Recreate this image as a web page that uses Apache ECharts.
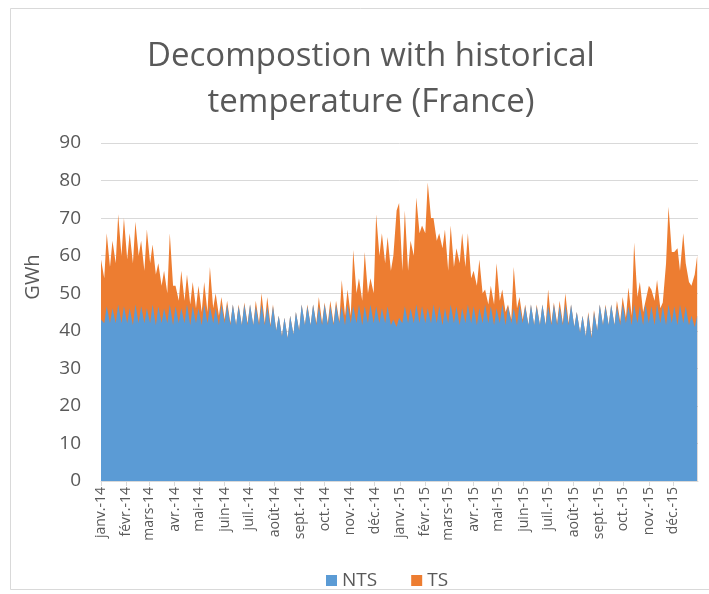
<!DOCTYPE html>
<html><head><meta charset="utf-8">
<script src="https://cdn.jsdelivr.net/npm/echarts@6/dist/echarts.min.js"></script>
<style>html,body{margin:0;padding:0;background:#fff}#c{width:709px;height:594px}</style>
</head><body><div id="c"></div>
<script>
// Month tick labels (x axis)
const monthLabels = ['janv.-14','févr.-14','mars-14','avr.-14','mai-14','juin-14','juil.-14','août-14','sept.-14','oct.-14','nov.-14','déc.-14',
  'janv.-15','févr.-15','mars-15','avr.-15','mai-15','juin-15','juil.-15','août-15','sept.-15','oct.-15','nov.-15','déc.-15'];
const yTicks = [0,10,20,30,40,50,60,70,80,90];
const seriesNames = ['NTS','TS'];

// Values read twice a week: Wednesday (working day) then Sunday, starting Wed 1 Jan 2014
const NTS = [
  43,42, 46.5,42, 46,42, 47,42, 46.5,42, 46,41.5, 47,42, 46.5,42, 46,42, 47,41.5,
  46.5,42, 46,42, 47,41.5, 46.5,42, 46,42, 47,41.5, 46.5,42, 46,41.5, 47,42, 46.5,42,
  46,41.5, 47,42, 47,41.5, 47,41.5, 46.5,41.5, 47,41.5, 47,41.5, 46.5,41.5, 47,41.5, 46.5,41,
  46.5,40, 44,38.5, 43.5,38, 44,39, 45,40, 47,41.5, 46.5,41.5, 47,41.5, 46.5,41.5, 47,41.5,
  46.5,41.5, 47,42, 46.5,41.5, 47,42, 46.5,42, 47,41.5, 46.5,42, 47,42, 46.5,42, 46,42,
  46.5,41.5, 43,41, 43.5,42, 46.5,42, 46,42, 47,42, 46.5,42, 46,42, 47,42, 46.5,41.5,
  46,42, 47,42, 46.5,41.5, 46,42, 47,42, 46.5,41.5, 46,42, 47,42, 46.5,41.5, 46,42,
  47,41.5, 46.5,42, 46,41.5, 47,42, 46.5,41.5, 47,41.5, 46.5,41.5, 47,41.5, 46.5,41.5, 47,41.5,
  46.5,41.5, 47,41.5, 47,41, 45,39.5, 44,38.5, 44.5,38, 45,40, 47,41.5, 46.5,41.5, 47,41.5,
  46.5,41.5, 47,42, 46.5,41.5, 47,42, 46.5,41.5, 47,42, 46.5,41.5, 47,42, 46.5,41.5, 47,42,
  46.5,41.5, 47,42, 46.5,41.5, 44,41, 44
];
const TS = [
  16,12, 19.5,15, 18,16, 24,18, 23.5,17, 20,16.5, 22,18, 17.5,14, 21,16, 16,13.5,
  11.5,10, 10,8, 19,10.5, 5.5,6, 10,6, 8,5.5, 6.5,4, 6,3.5, 6,3, 10.5,4,
  4,2.5, 2,1, 1,0.5, 0,0, 0.5,0, 0.5,0.5, 0,0, 1.5,0.5, 3,0.5, 2.5,0.5,
  0.5,0, 0,0, 0,0, 0,0, 0,0, 0,0, 0.5,0, 0,0.5, 2.5,0.5, 0.5,0.5,
  1.5,0.5, 1,0.5, 7,2.5, 4,2, 15,8, 7,6.5, 14.5,8, 7,8, 24.5,18, 20,16,
  18.5,14.5, 17,31, 30.5,14, 25.5,14, 18,18, 28.5,24, 21.5,24, 33.5,28, 23,22, 19.5,20.5,
  21,14, 21,15, 15.5,16.5, 20,15, 19,12, 9.5,10.5, 13,8, 4,5, 5.5,5.5, 12,6,
  4,3.5, 0.5,1, 11,4.5, 2,1, 0.5,0, 0,0, 0.5,0, 0,0, 4.5,0.5, 0.5,0.5,
  1.5,0.5, 3,0.5, 0,0, 0,0, 0,0, 0.5,0.5, 0.5,0, 0,0, 0.5,0, 0,0,
  1.5,1, 2,1.5, 5,2.5, 16.5,7, 6.5,3.5, 1,10, 4.5,6.5, 6.5,4, 1,16.5, 26,19,
  14.5,20.5, 9,24, 11.5,11.5, 8,14, 16
];

// x positions as day numbers counted from 1 Jan 2014
const DAY = 86400000;
const start = Date.UTC(2014, 0, 1);
const days = NTS.map((_, i) => Math.floor(i / 2) * 7 + (i % 2) * 4);
const monthStartDays = monthLabels.map((_, k) => Math.round((Date.UTC(2014 + Math.floor(k / 12), k % 12, 1) - start) / DAY));
const lastDay = Math.round((Date.UTC(2015, 11, 31) - start) / DAY);

const txt = '#595959';
const font = 'Open Sans';
const chart = echarts.init(document.getElementById('c'));
chart.setOption({
  animation: false,
  backgroundColor: '#fff',
  title: {
    text: 'Decompostion with historical\ntemperature (France)',
    left: 366, top: 29, textAlign: 'center',
    textStyle: { fontFamily: font, fontSize: 33, fontWeight: 'normal', color: txt, lineHeight: 46 }
  },
  graphic: [
    { type: 'rect', shape: { x: 10.5, y: 8.5, width: 720, height: 581 }, style: { fill: 'none', stroke: '#D9D9D9', lineWidth: 1 }, z: -10 },
    { type: 'text', x: 33, y: 277, rotation: Math.PI / 2,
      style: { text: 'GWh', fontFamily: font, fontSize: 20, fill: txt, align: 'center', verticalAlign: 'middle' } }
  ],
  legend: {
    data: seriesNames, left: 321, top: 566, icon: 'rect', itemWidth: 11, itemHeight: 11, itemGap: 34,
    textStyle: { fontFamily: font, fontSize: 19, color: txt }
  },
  grid: { left: 101, right: 11, top: 143, bottom: 113, containLabel: false },
  xAxis: {
    type: 'value',
    min: 0, max: lastDay,
    axisLine: { show: true, onZero: false, lineStyle: { color: '#D9D9D9' } },
    axisTick: { show: true, customValues: monthStartDays, length: 5, lineStyle: { color: '#D9D9D9' } },
    splitLine: { show: false },
    axisLabel: {
      customValues: monthStartDays, rotate: 90, margin: 6, fontFamily: font, fontSize: 14, color: txt,
      formatter: (v) => { const k = monthStartDays.indexOf(Math.round(v)); return k >= 0 ? monthLabels[k] : ''; }
    }
  },
  yAxis: {
    type: 'value', min: yTicks[0], max: yTicks[yTicks.length - 1], interval: 10,
    axisLine: { show: false }, axisTick: { show: false },
    splitLine: { lineStyle: { color: '#D9D9D9' } },
    axisLabel: { fontFamily: font, fontSize: 19, color: txt, margin: 20 }
  },
  series: [
    // NTS drawn in front of the TS band, whose top is NTS + TS (stacked)
    { name: seriesNames[0], type: 'line', z: 3, symbol: 'none', lineStyle: { width: 0 },
      itemStyle: { color: '#5B9BD5' }, areaStyle: { color: '#5B9BD5', opacity: 1 },
      data: days.map((d, i) => [d, NTS[i]]) },
    { name: seriesNames[1], type: 'line', z: 2, symbol: 'none', lineStyle: { width: 0 },
      itemStyle: { color: '#ED7D31' }, areaStyle: { color: '#ED7D31', opacity: 1 },
      data: days.map((d, i) => [d, NTS[i] + TS[i]]) }
  ]
});
</script></body></html>
